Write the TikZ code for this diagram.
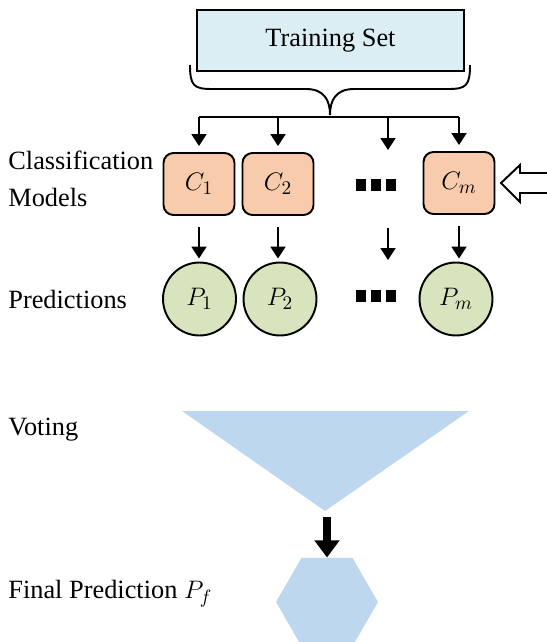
\documentclass[tikz,border=0pt]{standalone}
\usepackage{fontspec}
\setmainfont{Liberation Serif}
\usepackage{xcolor}
\usetikzlibrary{positioning}
\usetikzlibrary{calc}
\usetikzlibrary{arrows.meta}
\usetikzlibrary{shapes.geometric}

\definecolor{setblue}{HTML}{DAEEF3}
\definecolor{modelorange}{HTML}{F8CBAD}
\definecolor{predgreen}{HTML}{D7E4BD}
\definecolor{voteblue}{HTML}{BDD7EE}
\newcommand{\blk}{\rule{6pt}{7pt}}

\begin{document}
\begin{tikzpicture}[x=0.02cm,y=-0.02cm,
  every node/.style={font=\fontsize{15}{21}\selectfont},
  arr/.style={-{Triangle[width=0.3cm,length=0.24cm]},line width=1.1pt},
  model/.style={draw,line width=1.1pt,rounded corners=0.2cm,fill=modelorange,minimum width=1.42cm,minimum height=1.24cm},
  pred/.style={draw,circle,line width=1.1pt,fill=predgreen,minimum size=1.46cm,inner sep=0pt},
  lbl/.style={anchor=west,align=left,inner sep=0pt}]
\useasboundingbox (0,0) rectangle (547,642);
\node[draw,line width=1.1pt,fill=setblue,minimum width=5.34cm,minimum height=1.22cm] (ts) at (330.5,40.5) {Training Set};
\draw[line width=1.1pt] (190,65) .. controls (190,86) and (194,89) .. (212,89) -- (306,89) .. controls (324,89) and (330,100) .. (330,115) .. controls (330,100) and (336,89) .. (354,89) -- (448,89) .. controls (466,89) and (470,86) .. (470,65);
\coordinate (bus) at (330,117);
\node[model] (c1) at (199,184) {$C_1$};
\node[model] (c2) at (278,184) {$C_2$};
\node (dc) at (376,185) {\blk\,\blk\,\blk};
\node[model] (cm) at (459,183) {$C_m$};
\coordinate (cdots) at (388,150);
\draw[line width=1.1pt] (c1 |- bus) -- (cm |- bus);
\foreach \n in {c1,c2,cm} \draw[arr] (\n |- bus) -- ([yshift=0.12cm]\n.north);
\draw[arr] (cdots |- bus) -- (cdots);
\draw[line width=1.1pt,fill=white] (549,173) -- (520,173) -- (520,165) -- (501,183) -- (520,202) -- (520,193) -- (549,193);
\node[lbl] (lcls) at (8,179) {Classification\\Models};
\node[pred] (p1) at (199.5,299) {$P_1$};
\node[pred] (p2) at (280,299) {$P_2$};
\node (dp) at (376,296) {\blk\,\blk\,\blk};
\node[pred] (pm) at (456,299) {$P_m$};
\foreach \c/\p in {c1/p1,c2/p2,cm/pm} \draw[arr,shorten <=0.22cm,shorten >=0.06cm] (\c.south) -- (\c.south |- \p.north);
\coordinate (dtop) at (388,228);
\coordinate (dbot) at (388,260);
\draw[arr] (dtop) -- (dbot);
\node[lbl] (lpred) at (8,299) {Predictions};
\fill[voteblue] (182,411) -- (469,411) -- (325,511) -- cycle;
\coordinate (vote) at (325,511);
\node[lbl] (lvote) at (8,430) {Voting};
\node[regular polygon,regular polygon sides=6,fill=voteblue,minimum size=2.04cm,inner sep=0pt] (final) at (327,602) {};
\draw[-{Triangle[width=0.48cm,length=0.34cm]},line width=4.5pt] ([yshift=-0.12cm]final |- vote) -- (final.north);
\node[lbl] (lfinal) at (8,594) {Final Prediction $P_f$};
\end{tikzpicture}
\end{document}
